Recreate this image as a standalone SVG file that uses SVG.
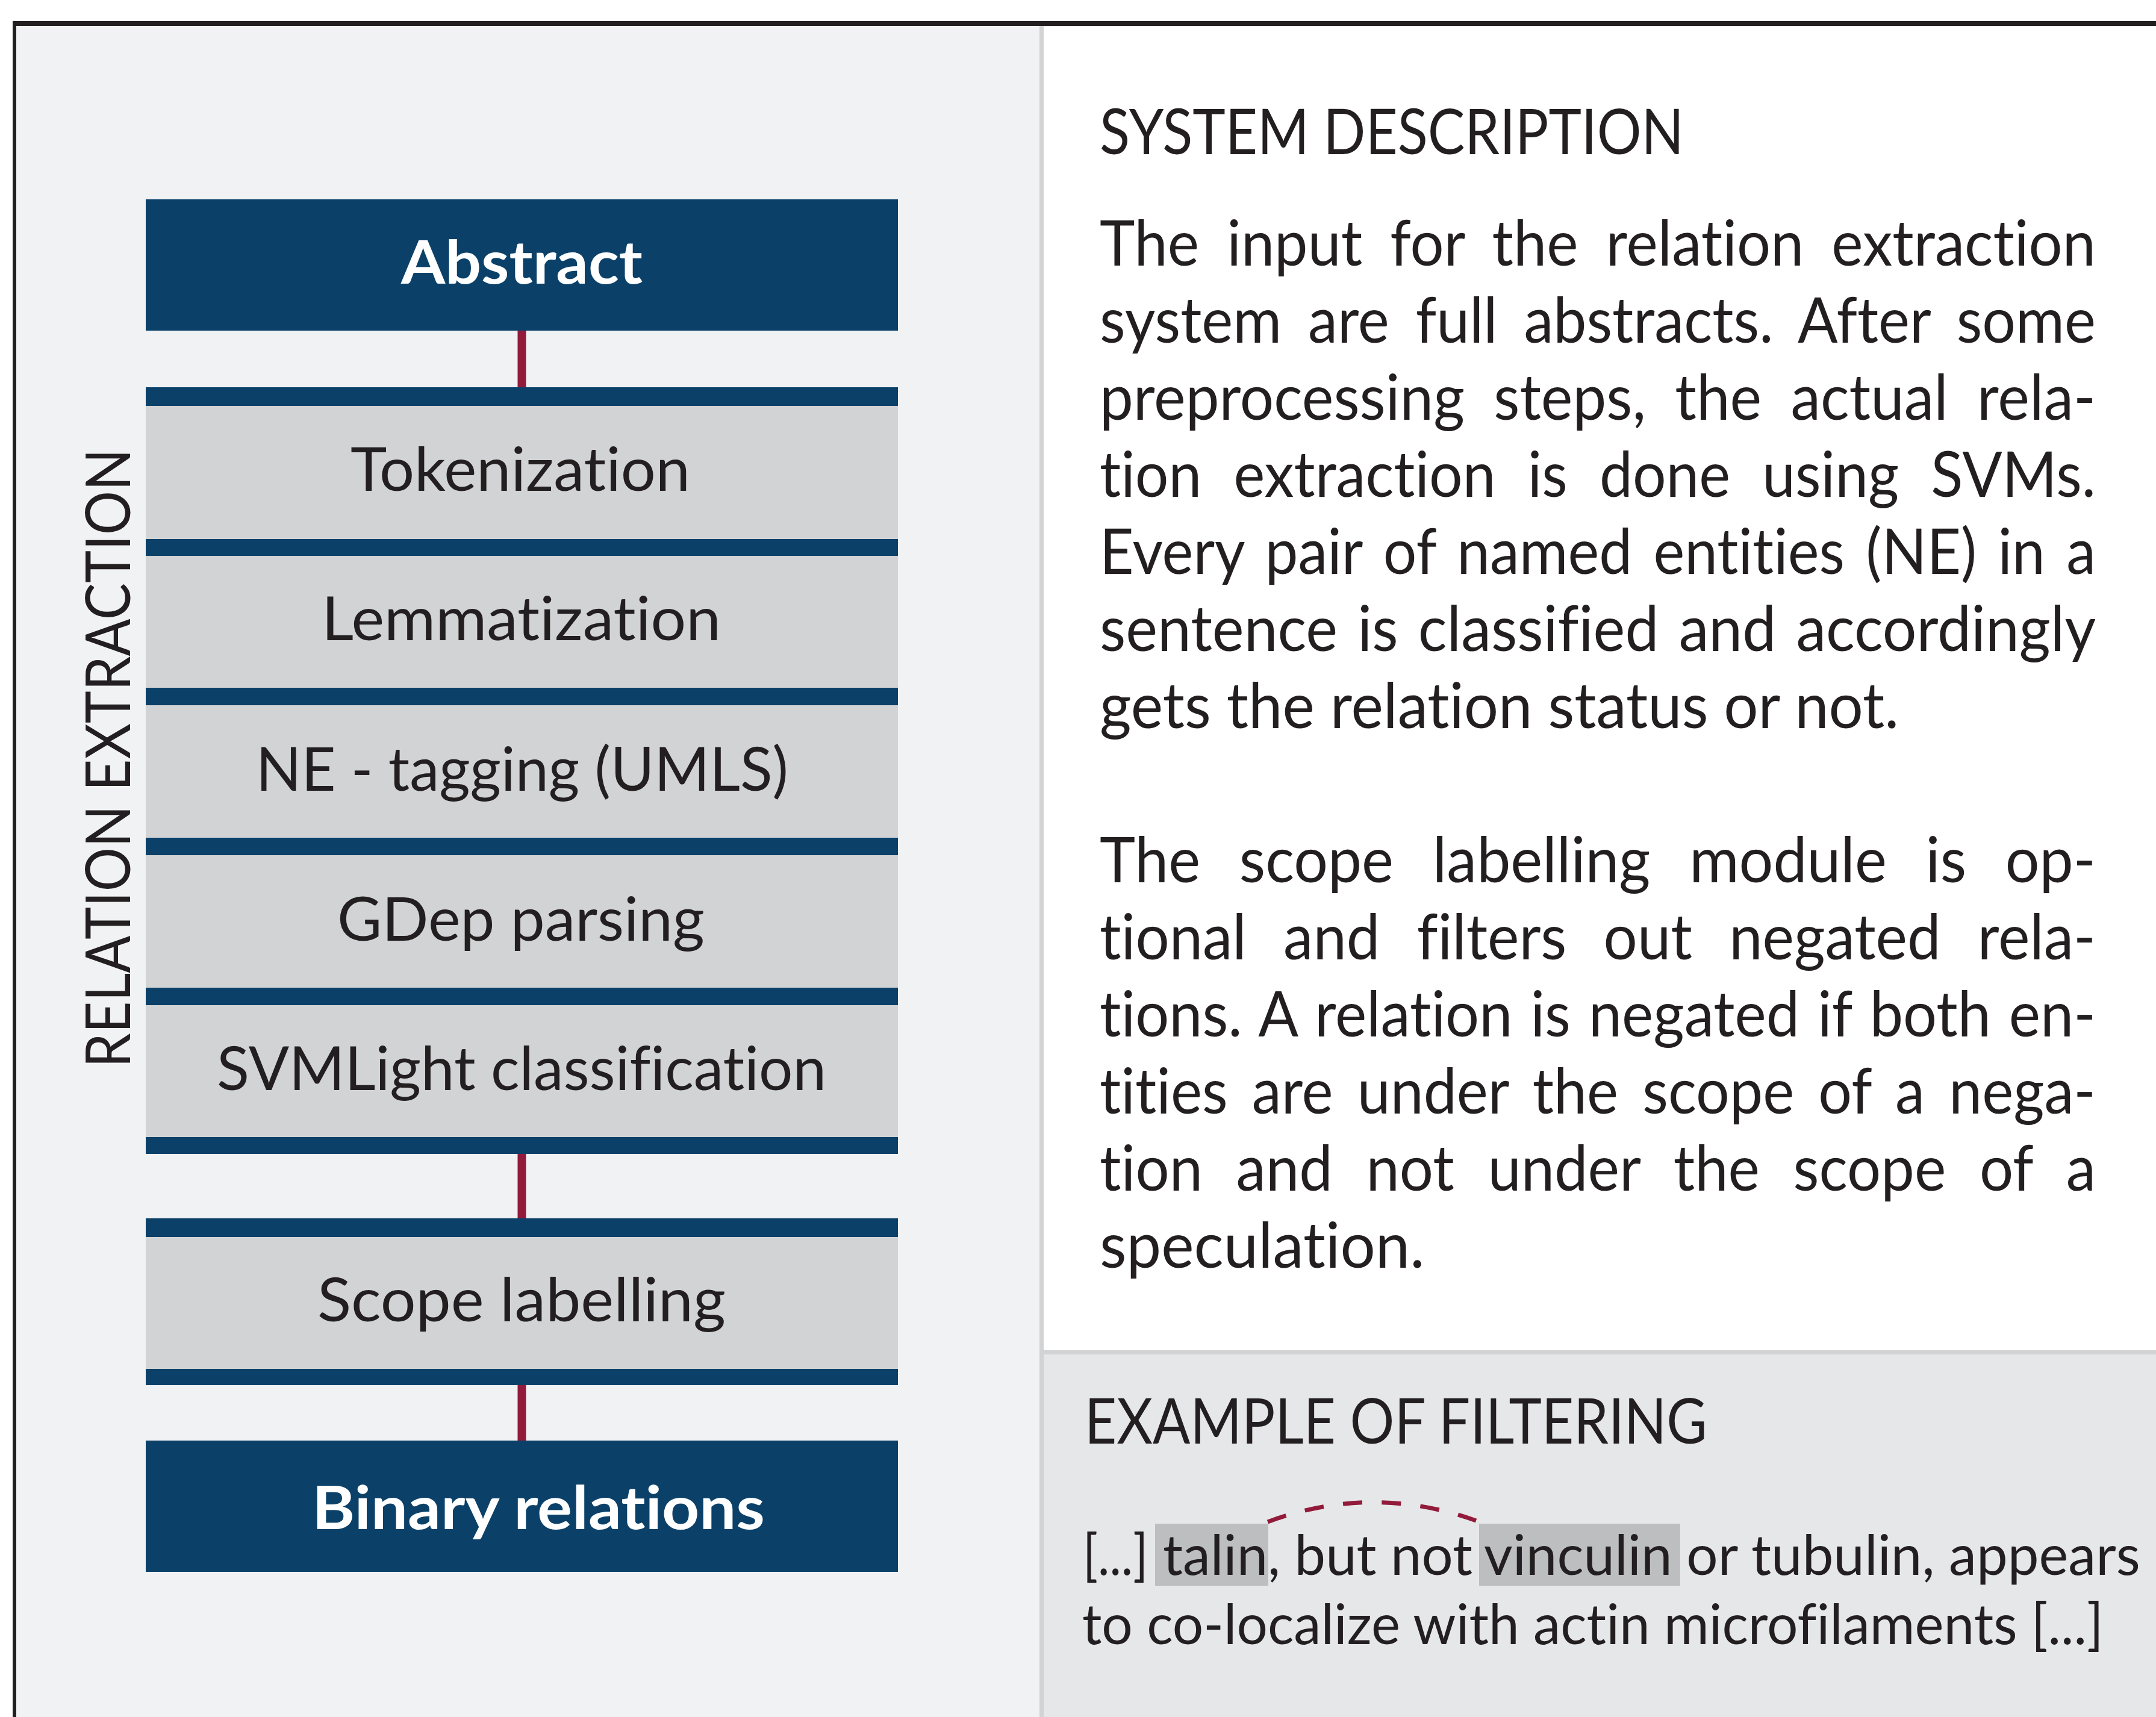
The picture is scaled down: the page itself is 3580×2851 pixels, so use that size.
<svg xmlns="http://www.w3.org/2000/svg" width="3580" height="2851" viewBox="0 0 3580 2851">
<style>
  .t { font-family: Lato, "Open Sans", "Liberation Sans", sans-serif; fill: #231f20; font-variant-ligatures: none; font-feature-settings: "liga" 0, "clig" 0, "dlig" 0; }
  .lbl { font-size: 100px; }
  .lblb { font-size: 100px; font-weight: 700; fill: #ffffff; }
  .body { font-size: 105px; }
  .ex { font-size: 94px; }
  .navy { fill: #0b4169; }
  .stage { fill: #d1d3d4; }
  .conn { stroke: #921a3a; stroke-width: 14; fill: none; }
  .arc { stroke: #921a3a; stroke-width: 7; fill: none; stroke-dasharray: 32 32.4; }
  .hl { fill: #bcbec0; }
</style>

<!-- background / panels -->
<g id="panels">
  <rect x="0" y="0" width="3580" height="2851" fill="#ffffff"/>
  <rect x="27" y="43" width="1699" height="2808" fill="#f1f2f4"/>
  <rect x="1726" y="43" width="7" height="2808" fill="#d1d3d4"/>
  <rect x="1733" y="43" width="1847" height="2199" fill="#ffffff"/>
  <rect x="1733" y="2242" width="1847" height="7" fill="#d1d3d4"/>
  <rect x="1733" y="2249" width="1847" height="602" fill="#e6e7e8"/>
  <rect x="21" y="35" width="3559" height="8" fill="#231f20"/>
  <rect x="21" y="35" width="6" height="2816" fill="#231f20"/>
</g>

<g id="side-label">
  <text class="t lbl" style="font-size:102px" transform="translate(216 1773) rotate(-90)" textLength="1028" lengthAdjust="spacingAndGlyphs">RELATION EXTRACTION</text>
</g>

<!-- connectors -->
<g id="connectors">
  <line class="conn" x1="866.5" y1="549" x2="866.5" y2="644"/>
  <line class="conn" x1="866.5" y1="1915" x2="866.5" y2="2024"/>
  <line class="conn" x1="866.5" y1="2299" x2="866.5" y2="2393"/>
  <path class="arc" d="M 2105 2527 Q 2278 2463 2451 2525"/>
</g>

<!-- nodes -->
<g id="node-abstract">
  <rect class="navy" x="242" y="331" width="1249" height="218"/>
  <text class="t lblb" x="666" y="471" textLength="401" lengthAdjust="spacingAndGlyphs">Abstract</text>
</g>
<g id="node-tokenization">
  <rect class="navy" x="242" y="643" width="1249" height="31"/>
  <rect class="stage" x="242" y="674" width="1249" height="221"/>
  <text class="t lbl" x="582" y="815" textLength="564" lengthAdjust="spacingAndGlyphs">Tokenization</text>
</g>
<g id="node-lemmatization">
  <rect class="navy" x="242" y="895" width="1249" height="28"/>
  <rect class="stage" x="242" y="923" width="1249" height="219"/>
  <text class="t lbl" x="534" y="1063" textLength="663" lengthAdjust="spacingAndGlyphs">Lemmatization</text>
</g>
<g id="node-ne-tagging">
  <rect class="navy" x="242" y="1142" width="1249" height="29"/>
  <rect class="stage" x="242" y="1171" width="1249" height="220"/>
  <text class="t lbl" x="425" y="1313" textLength="884" lengthAdjust="spacingAndGlyphs">NE - tagging (UMLS)</text>
</g>
<g id="node-gdep">
  <rect class="navy" x="242" y="1391" width="1249" height="29"/>
  <rect class="stage" x="242" y="1420" width="1249" height="220"/>
  <text class="t lbl" x="560" y="1562" textLength="610" lengthAdjust="spacingAndGlyphs">GDep parsing</text>
</g>
<g id="node-svmlight">
  <rect class="navy" x="242" y="1640" width="1249" height="29"/>
  <rect class="stage" x="242" y="1669" width="1249" height="219"/>
  <rect class="navy" x="242" y="1888" width="1249" height="28"/>
  <text class="t lbl" x="360" y="1810" textLength="1012" lengthAdjust="spacingAndGlyphs">SVMLight classification</text>
</g>
<g id="node-scope">
  <rect class="navy" x="242" y="2023" width="1249" height="31"/>
  <rect class="stage" x="242" y="2054" width="1249" height="219"/>
  <rect class="navy" x="242" y="2273" width="1249" height="27"/>
  <text class="t lbl" x="527" y="2194" textLength="678" lengthAdjust="spacingAndGlyphs">Scope labelling</text>
</g>
<g id="node-binary">
  <rect class="navy" x="242" y="2392" width="1249" height="218"/>
  <text class="t lblb" x="518" y="2539" textLength="752" lengthAdjust="spacingAndGlyphs">Binary relations</text>
</g>

<!-- system description -->
<g id="system-description">
  <text class="t body" transform="translate(1826 256) scale(0.95 1)" textLength="1021" lengthAdjust="spacingAndGlyphs">SYSTEM DESCRIPTION</text>
  <text class="t body" transform="translate(1826 441) scale(0.95 1)" textLength="1741" lengthAdjust="spacingAndGlyphs" word-spacing="22">The input for the relation extraction</text>
  <text class="t body" transform="translate(1826 569) scale(0.95 1)" textLength="1741" lengthAdjust="spacingAndGlyphs" word-spacing="20">system are full abstracts. After some</text>
  <text class="t body" transform="translate(1826 697) scale(0.95 1)" textLength="1741" lengthAdjust="spacingAndGlyphs" word-spacing="24">preprocessing steps, the actual rela-</text>
  <text class="t body" transform="translate(1826 825) scale(0.95 1)" textLength="1741" lengthAdjust="spacingAndGlyphs" word-spacing="30">tion extraction is done using SVMs.</text>
  <text class="t body" transform="translate(1826 953) scale(0.95 1)" textLength="1741" lengthAdjust="spacingAndGlyphs" word-spacing="11">Every pair of named entities (NE) in a</text>
  <text class="t body" transform="translate(1826 1081) scale(0.95 1)" textLength="1741" lengthAdjust="spacingAndGlyphs" word-spacing="8">sentence is classified and accordingly</text>
  <text class="t body" transform="translate(1826 1209) scale(0.95 1)" textLength="1397" lengthAdjust="spacingAndGlyphs">gets the relation status or not.</text>
  <text class="t body" transform="translate(1826 1465) scale(0.95 1)" textLength="1741" lengthAdjust="spacingAndGlyphs" word-spacing="41">The scope labelling module is op-</text>
  <text class="t body" transform="translate(1826 1593) scale(0.95 1)" textLength="1741" lengthAdjust="spacingAndGlyphs" word-spacing="38">tional and filters out negated rela-</text>
  <text class="t body" transform="translate(1826 1721) scale(0.95 1)" textLength="1741" lengthAdjust="spacingAndGlyphs" word-spacing="5">tions. A relation is negated if both en-</text>
  <text class="t body" transform="translate(1826 1849) scale(0.95 1)" textLength="1741" lengthAdjust="spacingAndGlyphs" word-spacing="16">tities are under the scope of a nega-</text>
  <text class="t body" transform="translate(1826 1977) scale(0.95 1)" textLength="1741" lengthAdjust="spacingAndGlyphs" word-spacing="32">tion and not under the scope of a</text>
  <text class="t body" transform="translate(1826 2105) scale(0.95 1)" textLength="568" lengthAdjust="spacingAndGlyphs">speculation.</text>
</g>

<!-- example of filtering -->
<g id="example">
  <text class="t body" transform="translate(1801 2397) scale(0.95 1)" textLength="1088" lengthAdjust="spacingAndGlyphs">EXAMPLE OF FILTERING</text>
  <rect class="hl" x="1918" y="2530" width="188" height="103"/>
  <rect class="hl" x="2456" y="2530" width="334" height="103"/>
  <text class="t ex" transform="translate(1798 2615) scale(0.95 1)" textLength="114" lengthAdjust="spacingAndGlyphs">[...]</text>
  <text class="t ex" transform="translate(1931 2615) scale(0.95 1)" textLength="541" lengthAdjust="spacingAndGlyphs">talin, but not</text>
  <text class="t ex" transform="translate(2464 2615) scale(0.95 1)" textLength="1147" lengthAdjust="spacingAndGlyphs">vinculin or tubulin, appears</text>
  <text class="t ex" transform="translate(1797 2730) scale(0.95 1)" textLength="1785" lengthAdjust="spacingAndGlyphs">to co-localize with actin microfilaments [...]</text>
</g>
</svg>
